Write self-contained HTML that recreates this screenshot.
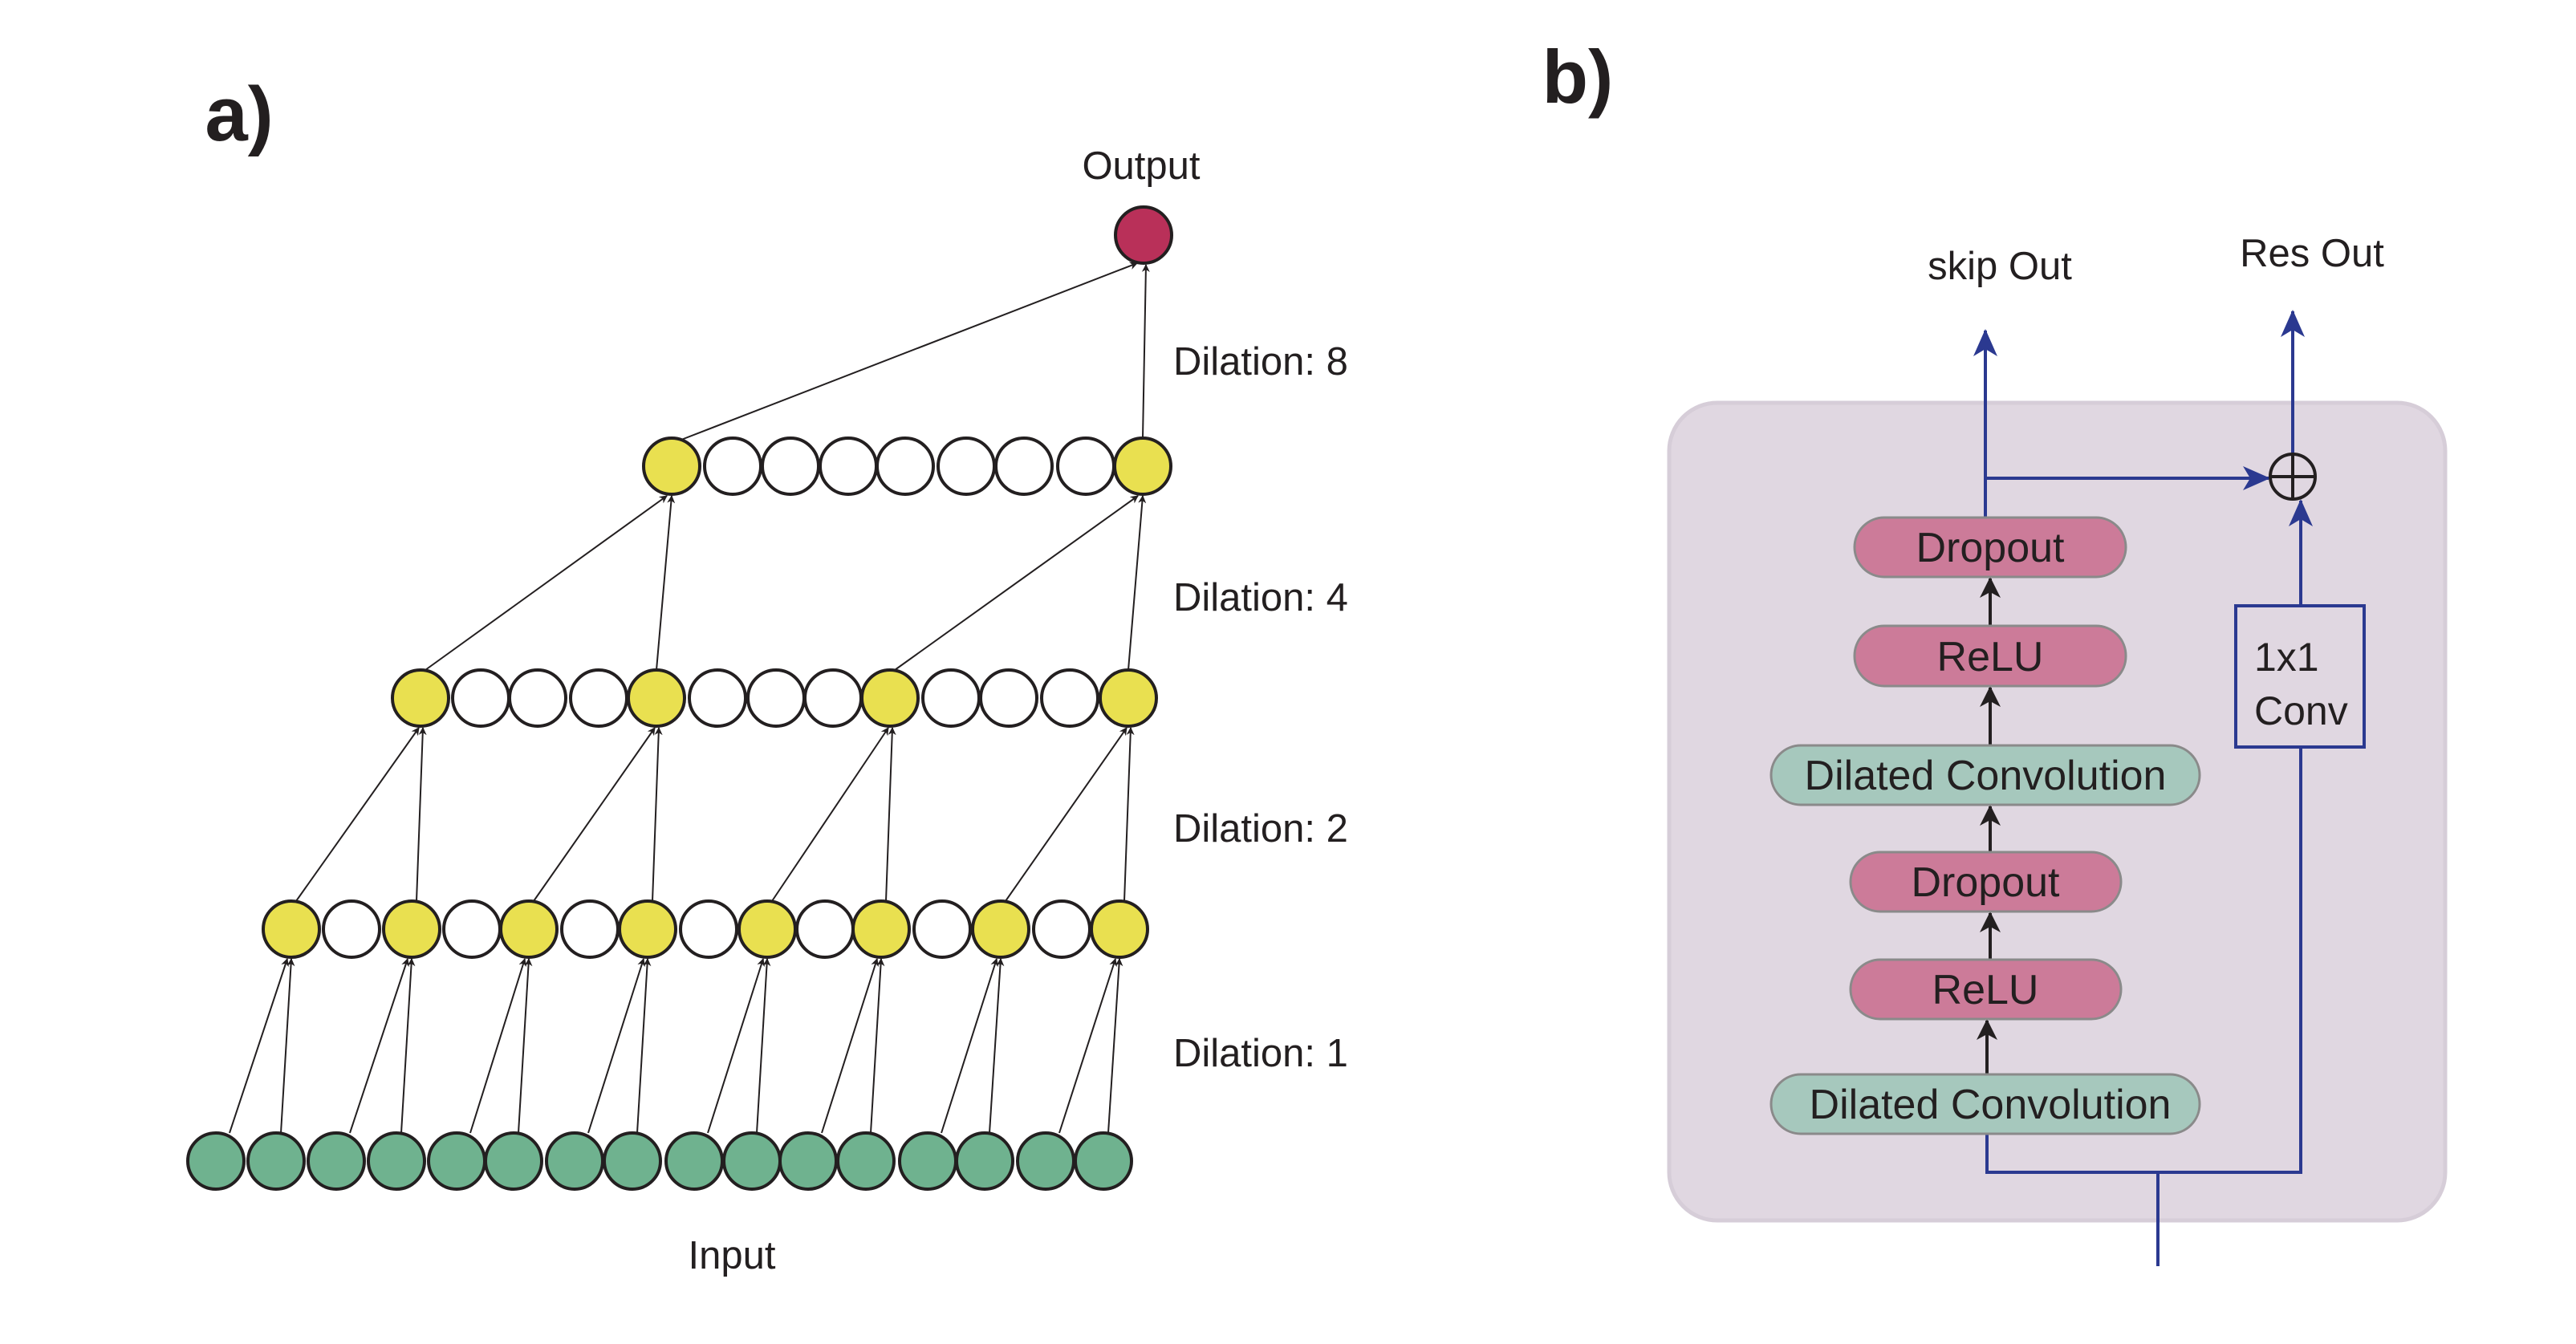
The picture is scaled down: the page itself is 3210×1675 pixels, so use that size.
<!DOCTYPE html>
<html><head><meta charset="utf-8"><style>
html,body{margin:0;padding:0;background:#fff;}
svg{display:block;}
text{font-family:"Liberation Sans",sans-serif;fill:#231f20;}
</style></head><body>
<svg id="s" xmlns="http://www.w3.org/2000/svg" width="3210" height="1675" viewBox="0 0 3210 1675">
<defs>
<marker id="ak" markerWidth="10" markerHeight="10" refX="9" refY="5" orient="auto" markerUnits="userSpaceOnUse" viewBox="0 0 10 10"><path d="M0,0 L10,5 L0,10 L3,5 z" fill="#231f20"/></marker>
<marker id="ak2" markerWidth="26" markerHeight="26" refX="24" refY="13" orient="auto" markerUnits="userSpaceOnUse" viewBox="0 0 26 26"><path d="M0,0 L26,13 L0,26 L7,13 z" fill="#231f20"/></marker>
<marker id="ab" markerWidth="34" markerHeight="30" refX="32" refY="15" orient="auto" markerUnits="userSpaceOnUse" viewBox="0 0 34 30"><path d="M0,0 L34,15 L0,30 L9,15 z" fill="#2b3990"/></marker>
</defs>
<g id="left"></g>
<text x="298" y="175" font-size="96" font-weight="bold" text-anchor="middle">a)</text>
<text x="1966" y="128" font-size="94" font-weight="bold" text-anchor="middle">b)</text>
<text x="1422" y="223" font-size="49" text-anchor="middle">Output</text>
<text x="912" y="1581" font-size="49" text-anchor="middle">Input</text>
<text x="1462" y="467" font-size="49">Dilation: 8</text>
<text x="1462" y="761" font-size="49">Dilation: 4</text>
<text x="1462" y="1049" font-size="49">Dilation: 2</text>
<text x="1462" y="1329" font-size="49">Dilation: 1</text>

<g transform="translate(-11,-2)">
<rect x="2091" y="504" width="967" height="1019" rx="60" fill="#e0d7e1" stroke="#d6cdd8" stroke-width="5"/>
<g stroke="#2b3990" stroke-width="4" fill="none">
<line x1="2485" y1="647" x2="2485" y2="414" marker-end="url(#ab)"/>
<line x1="2485" y1="598" x2="2838" y2="598" marker-end="url(#ab)"/>
<line x1="2878" y1="757" x2="2878" y2="626" marker-end="url(#ab)"/>
<line x1="2868" y1="567" x2="2868" y2="390" marker-end="url(#ab)"/>
<polyline points="2487,1415 2487,1463 2878,1463 2878,933"/>
<line x1="2700" y1="1463" x2="2700" y2="1580"/>
<rect x="2797" y="757" width="160" height="176"/>
</g>
<circle cx="2868" cy="596" r="28" fill="none" stroke="#231f20" stroke-width="4"/>
<line x1="2840" y1="596" x2="2896" y2="596" stroke="#231f20" stroke-width="4"/>
<line x1="2868" y1="568" x2="2868" y2="624" stroke="#231f20" stroke-width="4"/>
<text x="2820" y="838" font-size="50">1x1</text>
<text x="2820" y="905" font-size="50">Conv</text>
<text x="2503" y="350" font-size="49" text-anchor="middle">skip Out</text>
<text x="2892" y="334" font-size="49" text-anchor="middle">Res Out</text>
<g stroke="#231f20" stroke-width="4">
<line x1="2491" y1="782" x2="2491" y2="723" marker-end="url(#ak2)"/>
<line x1="2491" y1="931" x2="2491" y2="859" marker-end="url(#ak2)"/>
<line x1="2491" y1="1064" x2="2491" y2="1007" marker-end="url(#ak2)"/>
<line x1="2491" y1="1198" x2="2491" y2="1140" marker-end="url(#ak2)"/>
<line x1="2487" y1="1341" x2="2487" y2="1274" marker-end="url(#ak2)"/>
</g>
<g stroke="#8a8a8a" stroke-width="3">
<rect x="2322" y="647" width="338" height="74" rx="37" fill="#cc7b99"/>
<rect x="2322" y="782" width="338" height="75" rx="37" fill="#cc7b99"/>
<rect x="2218" y="931" width="534" height="74" rx="37" fill="#a6c8bd"/>
<rect x="2317" y="1064" width="337" height="74" rx="37" fill="#cc7b99"/>
<rect x="2317" y="1198" width="337" height="74" rx="37" fill="#cc7b99"/>
<rect x="2218" y="1341" width="534" height="74" rx="37" fill="#a6c8bd"/>
</g>
<g font-size="52" text-anchor="middle">
<text x="2491" y="702">Dropout</text>
<text x="2491" y="838">ReLU</text>
<text x="2485" y="986">Dilated Convolution</text>
<text x="2485" y="1119">Dropout</text>
<text x="2485" y="1253">ReLU</text>
<text x="2491" y="1396">Dilated Convolution</text>
</g>
</g>
</svg>
<script>
(function(){
var g=document.getElementById('left'),h='';
var G=[269,344,419,494,569,640,716,788,865,937,1007,1079,1156,1227,1303,1375];
var L1=[363,438,513,588,659,735,807,883,956,1028,1098,1174,1247,1323,1395];
var L2=[524,599,670,746,818,894,967,1038,1109,1185,1257,1333,1406];
var L3=[837,913,985,1057,1128,1204,1276,1353,1424];
var yG=1447,y1=1158,y2=870,y3=581,r=35;
function ln(a,b,c,d){h+='<line x1="'+a+'" y1="'+b+'" x2="'+c+'" y2="'+d+'" stroke="#231f20" stroke-width="2" marker-end="url(#ak)"/>';}
for(var k=0;k<8;k++){var t=L1[2*k];ln(G[2*k]+17,yG-r,t-5,y1+r+2);ln(G[2*k+1]+6,yG-r,t,y1+r+2);}
for(var k=0;k<4;k++){var t=L2[4*k];ln(L1[4*k]+6,y1-r,t-2,y2+r+2);ln(L1[4*k+2]+6,y1-r,t+3,y2+r+2);}
for(var k=0;k<2;k++){var t=L3[8*k];ln(L2[8*k]+6,y2-r,t-6,y3+r+2);ln(L2[8*k+4],y2-r,t,y3+r+2);}
ln(L3[0]+12,y3-r+2,1417,328);ln(L3[8],y3-r,1428,330);
function c(x,y,f){h+='<circle cx="'+x+'" cy="'+y+'" r="'+r+'" fill="'+f+'" stroke="#231f20" stroke-width="4"/>';}
G.forEach(function(x){c(x,yG,'#6fb28f');});
L1.forEach(function(x,i){c(x,y1,i%2==0?'#e9e050':'#fff');});
L2.forEach(function(x,i){c(x,y2,i%4==0?'#e9e050':'#fff');});
L3.forEach(function(x,i){c(x,y3,i%8==0?'#e9e050':'#fff');});
c(1425,293,'#b93059');
g.innerHTML=h;
})();
</script>
</body></html>
